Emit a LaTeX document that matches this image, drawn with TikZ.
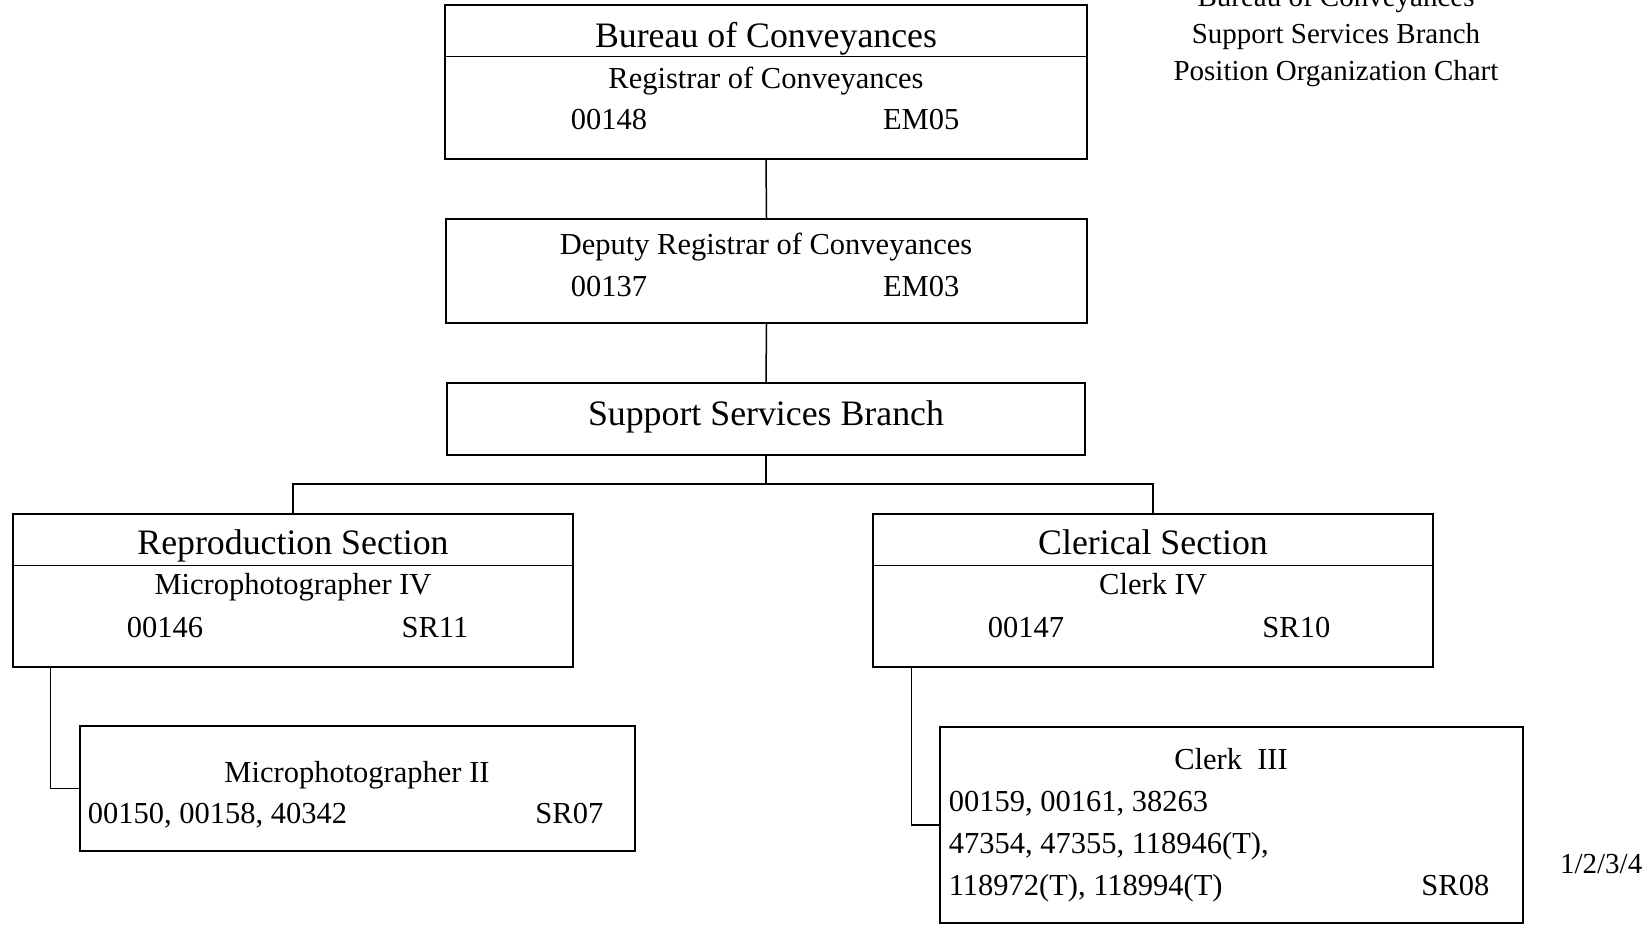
\documentclass[tikz,border=0pt]{standalone}
\usepackage{fontspec}
\setmainfont{Liberation Serif}
\tikzset{
  unit/.style={draw, line width=1.5pt, inner sep=0pt},
  big/.style={font=\fontsize{35.8}{43}\selectfont, inner sep=0pt},
  small/.style={font=\fontsize{30.5}{41}\selectfont, inner sep=0pt},
  note/.style={font=\fontsize{29}{37}\selectfont, inner sep=0pt},
}
\begin{document}
\begin{tikzpicture}[x=1pt, y=-1pt, line width=1.5pt]
    \useasboundingbox (0,0) rectangle (1646,926);

    % boxes
    \node[unit, minimum width=642pt, minimum height=154pt] (bureau) at (766,82) {};
    \node[unit, minimum width=641pt, minimum height=104pt] (deputy) at (766.5,271) {};
    \node[unit, minimum width=638pt, minimum height=72pt] (branch) at (766,419) {};
    \node[unit, minimum width=560pt, minimum height=153pt] (repro) at (293,590.5) {};
    \node[unit, minimum width=560pt, minimum height=153pt] (clerical) at (1153,590.5) {};
    \node[unit, minimum width=555pt, minimum height=125pt] (micro) at (357.5,788.5) {};
    \node[unit, minimum width=583pt, minimum height=196pt] (clerk) at (1231.5,825) {};

    \draw ([yshift=-52pt]bureau.north west) -- ([yshift=-52pt]bureau.north east);
    \draw ([yshift=-52pt]repro.north west) -- ([yshift=-52pt]repro.north east);
    \draw ([yshift=-52pt]clerical.north west) -- ([yshift=-52pt]clerical.north east);

    % texts
    \node[big, anchor=base] (bureautitle) at (766,47) {Bureau of Conveyances};
    \node[small, anchor=base] (registrar) at (766,88) {Registrar of Conveyances};
    \node[small, anchor=base west] (regnum) at (570,129) {00148};
    \node[small, anchor=base east] (reggrade) at (960,129) {EM05};

    \node[small, anchor=base] (deputyname) at (766,254) {Deputy Registrar of Conveyances};
    \node[small, anchor=base west] (depnum) at (570,296) {00137};
    \node[small, anchor=base east] (depgrade) at (960,296) {EM03};

    \node[big, anchor=base] (branchname) at (766,425) {Support Services Branch};

    \node[big, anchor=base] (reprotitle) at (293,554) {Reproduction Section};
    \node[small, anchor=base] (microfour) at (293,594) {Microphotographer IV};
    \node[small, anchor=base west] (reprnum) at (126,637) {00146};
    \node[small, anchor=base east] (reprgrade) at (469,637) {SR11};

    \node[big, anchor=base] (clericaltitle) at (1153,554) {Clerical Section};
    \node[small, anchor=base] (clerkfour) at (1153,594) {Clerk IV};
    \node[small, anchor=base west] (clernum) at (987,637) {00147};
    \node[small, anchor=base east] (clergrade) at (1331,637) {SR10};

    \node[small, anchor=base] (microtwo) at (357,782) {Microphotographer II};
    \node[small, anchor=base west] (micronum) at (87,823) {00150, 00158, 40342};
    \node[small, anchor=base east] (micrograde) at (604,823) {SR07};

    \node[small, anchor=base] (clerkthree) at (1231,769) {Clerk~~III};
    \node[small, anchor=base west] (clerknumA) at (948,811) {00159, 00161, 38263};
    \node[small, anchor=base west] (clerknumB) at (948,853) {47354, 47355, 118946(T),};
    \node[small, anchor=base west] (clerknumC) at (948,895) {118972(T), 118994(T)};
    \node[small, anchor=base east] (clerkgrade) at (1490,895) {SR08};

    \node[note, anchor=base] (headA) at (1336,6) {Bureau of Conveyances};
    \node[note, anchor=base] (headB) at (1336,43) {Support Services Branch};
    \node[note, anchor=base] (headC) at (1336,80) {Position Organization Chart};
    \node[note, anchor=base east] (page) at (1643,873) {1/2/3/4};

    % lines
    \coordinate (split) at (766,484);
    \draw (bureau.south) -- (deputy.north);
    \draw (deputy.south) -- (branch.north);
    \draw (branch.south) -- (split);
    \draw (repro.north) |- (split) -| (clerical.north);
    \draw ([xshift=38pt]repro.south west) |- (micro.west);
    \draw ([xshift=39pt]clerical.south west) |- (clerk.west);
\end{tikzpicture}
\end{document}
